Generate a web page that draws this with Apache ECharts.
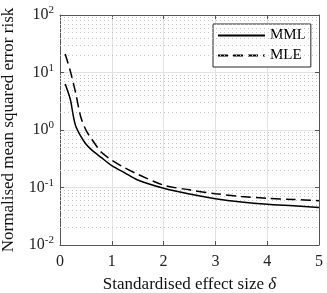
<!DOCTYPE html>
<html><head><meta charset="utf-8">
<script src="https://cdn.jsdelivr.net/npm/echarts@6/dist/echarts.min.js"></script>
<style>html,body{margin:0;padding:0;background:#fff}#c{width:327px;height:293px}</style>
</head><body><div id="c"></div>
<script>
var deltaMML = [0.1,0.2,0.25,0.3,0.4,0.5,0.6,0.8,1.0,1.25,1.5,2,2.5,3,3.5,4,4.5,5];
var valuesMML = [6.3,3.4,1.9,1.2,0.78,0.57,0.46,0.33,0.24,0.18,0.135,0.097,0.077,0.064,0.056,0.051,0.048,0.045];
var deltaMLE = [0.1,0.2,0.3,0.4,0.5,0.6,0.8,1.0,1.25,1.5,2,2.5,3,3.5,4,4.5,5];
var valuesMLE = [21,10.5,4.5,1.7,1.0,0.72,0.41,0.30,0.22,0.17,0.11,0.091,0.078,0.07,0.065,0.062,0.059];
var xTicks = [0,1,2,3,4,5];
var yDecades = [0.01,0.1,1,10,100];
var minorY = [];
for (var k = -2; k <= 1; k++) for (var m = 2; m <= 9; m++) minorY.push(m * Math.pow(10, k));

var font = 'Liberation Serif';
var chart = echarts.init(document.getElementById('c'), null, {renderer:'canvas'});
function pair(xs, ys){ return xs.map(function(x,i){ return [x, ys[i]]; }); }
var axisCol = '#555';
chart.setOption({
  animation:false,
  grid:{left:60, right:8, top:15, bottom:48, containLabel:false, outerBoundsMode:'none'},
  legend:{
    left:213, top:24, orient:'vertical', itemWidth:47, itemHeight:14, itemGap:5,
    padding:[4,5,4,4], borderColor:'#262626', borderWidth:1, backgroundColor:'#fff',
    itemStyle:{opacity:0},
    textStyle:{fontFamily:font, fontSize:15, color:'#000'},
    data:['MML','MLE']
  },
  xAxis:[{
    type:'value', min:0, max:5, interval:1, position:'bottom',
    axisLine:{show:true, onZero:false, lineStyle:{color:axisCol, width:1}},
    axisTick:{show:true, inside:true, length:4, lineStyle:{color:axisCol}},
    axisLabel:{fontFamily:font, fontSize:16, color:'#222', margin:9},
    splitLine:{show:true, lineStyle:{color:'#e3e3e3', width:1}},
    name:'Standardised effect size {i|δ}', nameLocation:'middle', nameGap:31,
    nameTextStyle:{fontFamily:font, fontSize:17, color:'#111', rich:{i:{fontFamily:font, fontStyle:'italic', fontSize:17, color:'#111'}}}
  },{
    type:'value', min:0, max:5, interval:1, position:'top',
    axisLine:{show:true, onZero:false, lineStyle:{color:axisCol, width:1}},
    axisTick:{show:true, inside:true, length:4, lineStyle:{color:axisCol}},
    axisLabel:{show:false}, splitLine:{show:false}
  }],
  yAxis:[{
    type:'log', min:0.01, max:100, logBase:10, position:'left',
    axisLine:{show:true, onZero:false, lineStyle:{color:axisCol, width:1}},
    axisTick:{show:true, inside:true, length:4, lineStyle:{color:axisCol}},
    splitLine:{show:true, lineStyle:{color:'#e3e3e3', width:1}},
    axisLabel:{
      margin:6,
      formatter:function(v){ return '{b|10}{s|' + Math.round(Math.log10(v)) + '}'; },
      rich:{
        b:{fontFamily:font, fontSize:16, color:'#222'},
        s:{fontFamily:font, fontSize:11, color:'#222', padding:[0,0,9,0]}
      }
    },
    name:'Normalised mean squared error risk', nameLocation:'middle', nameGap:43,
    nameTextStyle:{fontFamily:font, fontSize:17, color:'#111'}
  },{
    type:'log', min:0.01, max:100, logBase:10, position:'right',
    axisLine:{show:true, onZero:false, lineStyle:{color:axisCol, width:1}},
    axisTick:{show:true, inside:true, length:4, lineStyle:{color:axisCol}},
    axisLabel:{show:false}, splitLine:{show:false}
  }],
  series:[
    {name:'grid', type:'line', data:[], silent:true,
     markLine:{silent:true, symbol:'none', label:{show:false},
       lineStyle:{color:'#c4c4c4', type:[1,3], width:1},
       data:minorY.map(function(v){ return {yAxis:v}; })}},
    {name:'MML', type:'line', data:pair(deltaMML, valuesMML), symbol:'none', smooth:0.3,
     lineStyle:{color:'#000', width:1.5, type:'solid'}, itemStyle:{color:'#000'}, z:5},
    {name:'MLE', type:'line', data:pair(deltaMLE, valuesMLE), symbol:'none', smooth:0.3,
     lineStyle:{color:'#000', width:1.5, type:[10,5]}, itemStyle:{color:'#000'}, z:5}
  ]
});
</script></body></html>
